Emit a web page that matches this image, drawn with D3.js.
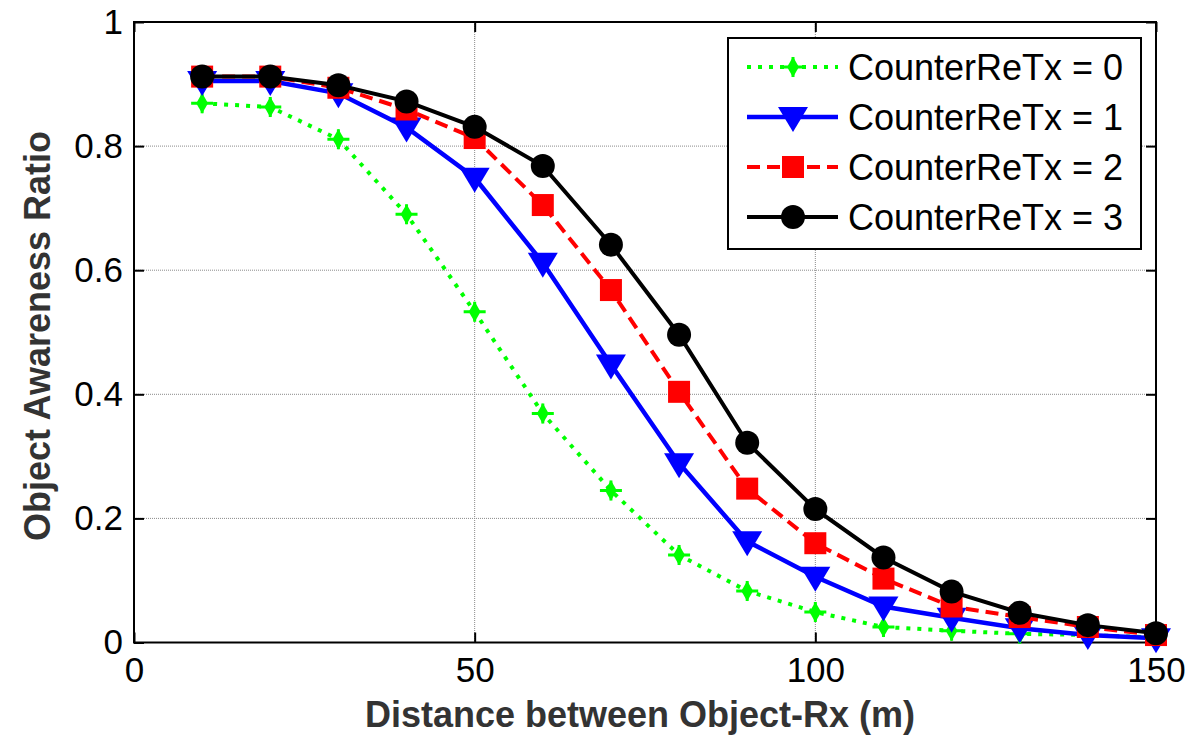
<!DOCTYPE html>
<html>
<head>
<meta charset="utf-8">
<script src="https://cdn.jsdelivr.net/npm/d3@7"></script>
<style>
  body { margin: 0; background: #fff; }
  svg { display: block; font-family: Arial, "Liberation Sans", sans-serif; }
</style>
</head>
<body>
<svg id="chart" width="1198" height="741"></svg>
<script>
// données
var distance = [10, 20, 30, 40, 50, 60, 70, 80, 90, 100, 110, 120, 130, 140, 150];
var retx0 = [0.869, 0.863, 0.811, 0.690, 0.533, 0.369, 0.245, 0.141, 0.083, 0.049, 0.025, 0.019, 0.014, 0.012, 0.008];
var retx1 = [0.905, 0.905, 0.885, 0.830, 0.749, 0.612, 0.448, 0.289, 0.163, 0.106, 0.058, 0.040, 0.023, 0.012, 0.007];
var retx2 = [0.912, 0.912, 0.894, 0.859, 0.813, 0.705, 0.568, 0.404, 0.248, 0.160, 0.103, 0.058, 0.041, 0.025, 0.012];
var retx3 = [0.912, 0.912, 0.898, 0.872, 0.831, 0.768, 0.641, 0.496, 0.322, 0.215, 0.137, 0.082, 0.048, 0.028, 0.015];
var legendLabels = ["CounterReTx = 0", "CounterReTx = 1", "CounterReTx = 2", "CounterReTx = 3"];
var xTicks = [0, 50, 100, 150];
var yTicks = [0, 0.2, 0.4, 0.6, 0.8, 1];

var series = [
  {values: retx0, color: "#00ff00", dash: "4,7", width: 4, marker: "star", label: legendLabels[0]},
  {values: retx1, color: "#0000ff", dash: null, width: 4.5, marker: "tri", label: legendLabels[1]},
  {values: retx2, color: "#ff0000", dash: "13,7", width: 4, marker: "square", label: legendLabels[2]},
  {values: retx3, color: "#000000", dash: null, width: 4, marker: "circle", label: legendLabels[3]}
];

// bords de la zone de tracé
var pLeft = 134, pRight = 1156, pTop = 22, pBottom = 642.5;

var svg = d3.select("#chart");
var x = d3.scaleLinear().domain([0, 150]).range([pLeft, pRight]);
var y = d3.scaleLinear().domain([0, 1]).range([pBottom, pTop]);

// grille pointillée
var grid = svg.append("g");
grid.selectAll(".gx").data([50, 100]).enter().append("line")
  .attr("x1", d => x(d)).attr("x2", d => x(d))
  .attr("y1", pTop).attr("y2", pBottom)
  .attr("stroke", "#8a8a8a").attr("stroke-width", 1).attr("stroke-dasharray", "1,1");
grid.selectAll(".gy").data([0.2, 0.4, 0.6, 0.8]).enter().append("line")
  .attr("x1", pLeft).attr("x2", pRight)
  .attr("y1", d => y(d)).attr("y2", d => y(d))
  .attr("stroke", "#8a8a8a").attr("stroke-width", 1).attr("stroke-dasharray", "1,1");

// axes (ticks vers l'intérieur, comme matlab)
var fs = 35;
svg.append("g").attr("transform", "translate(0," + pBottom + ")")
  .call(d3.axisBottom(x).tickValues(xTicks).tickSizeInner(-10).tickSizeOuter(0).tickPadding(15).tickFormat(d3.format("d")))
  .call(g => g.select(".domain").remove())
  .call(g => g.selectAll("line").attr("stroke", "#000").attr("stroke-width", 2))
  .call(g => g.selectAll("text").attr("font-size", fs).attr("fill", "#000").attr("font-family", "Arial, 'Liberation Sans', sans-serif"));
svg.append("g").attr("transform", "translate(" + pLeft + ",0)")
  .call(d3.axisLeft(y).tickValues(yTicks).tickSizeInner(-10).tickSizeOuter(0).tickPadding(11).tickFormat(d => d == 0 || d == 1 ? d3.format("d")(d) : d3.format(".1f")(d)))
  .call(g => g.select(".domain").remove())
  .call(g => g.selectAll("line").attr("stroke", "#000").attr("stroke-width", 2))
  .call(g => g.selectAll("text").attr("font-size", fs).attr("fill", "#000").attr("font-family", "Arial, 'Liberation Sans', sans-serif"));
// ticks du haut et de droite
svg.append("g").attr("transform", "translate(0," + pTop + ")")
  .call(d3.axisTop(x).tickValues(xTicks).tickSizeInner(-10).tickSizeOuter(0).tickFormat(""))
  .call(g => g.select(".domain").remove())
  .call(g => g.selectAll("line").attr("stroke", "#000").attr("stroke-width", 2));
svg.append("g").attr("transform", "translate(" + pRight + ",0)")
  .call(d3.axisRight(y).tickValues(yTicks).tickSizeInner(-10).tickSizeOuter(0).tickFormat(""))
  .call(g => g.select(".domain").remove())
  .call(g => g.selectAll("line").attr("stroke", "#000").attr("stroke-width", 2));

svg.append("rect").attr("x", pLeft).attr("y", pTop)
  .attr("width", pRight - pLeft).attr("height", pBottom - pTop)
  .attr("fill", "none").attr("stroke", "#000").attr("stroke-width", 2);

// titres des axes
svg.append("text").attr("x", 640).attr("y", 727)
  .attr("text-anchor", "middle").attr("font-size", 36).attr("font-weight", "bold").attr("fill", "#333")
  .text("Distance between Object-Rx (m)");
svg.append("text").attr("transform", "translate(50,336) rotate(-90)")
  .attr("text-anchor", "middle").attr("font-size", 36).attr("font-weight", "bold").attr("fill", "#333")
  .text("Object Awareness Ratio");

function drawMarker(g, type, color) {
  if (type == "circle") {
    g.append("circle").attr("r", 12).attr("fill", color);
  } else if (type == "square") {
    g.append("rect").attr("x", -11).attr("y", -11).attr("width", 22).attr("height", 22).attr("fill", color);
  } else if (type == "tri") {
    g.append("path").attr("d", "M-15,-10L15,-10L0,15Z").attr("fill", color);
  } else {
    g.append("path").attr("d", d3.symbol().type(d3.symbolDiamond).size(120)).attr("fill", color);
    g.append("path").attr("d", "M-11,0H11M0,-10V10").attr("stroke", color).attr("stroke-width", 3);
  }
}

var line = d3.line().x((d, i) => x(distance[i])).y(d => y(d));

series.forEach(function(s) {
  var g = svg.append("g");
  g.append("path").datum(s.values).attr("d", line)
    .attr("fill", "none").attr("stroke", s.color).attr("stroke-width", s.width)
    .attr("stroke-dasharray", s.dash);
  g.selectAll(".m").data(s.values).enter().append("g")
    .attr("transform", (d, i) => "translate(" + x(distance[i]) + "," + y(d) + ")")
    .each(function() { drawMarker(d3.select(this), s.marker, s.color); });
});

// légende
var lg = svg.append("g");
lg.append("rect").attr("x", 728).attr("y", 38).attr("width", 413).attr("height", 211)
  .attr("fill", "#fff").attr("stroke", "#000").attr("stroke-width", 2);
series.forEach(function(s, i) {
  var ly = 67 + i * 50;
  lg.append("line").attr("x1", 747).attr("x2", 838).attr("y1", ly).attr("y2", ly)
    .attr("stroke", s.color).attr("stroke-width", s.width).attr("stroke-dasharray", s.dash);
  var mg = lg.append("g").attr("transform", "translate(793," + ly + ")");
  drawMarker(mg, s.marker, s.color);
  lg.append("text").attr("x", 848).attr("y", ly + 13).attr("font-size", 36).attr("fill", "#000")
    .text(s.label);
});
</script>
</body>
</html>
